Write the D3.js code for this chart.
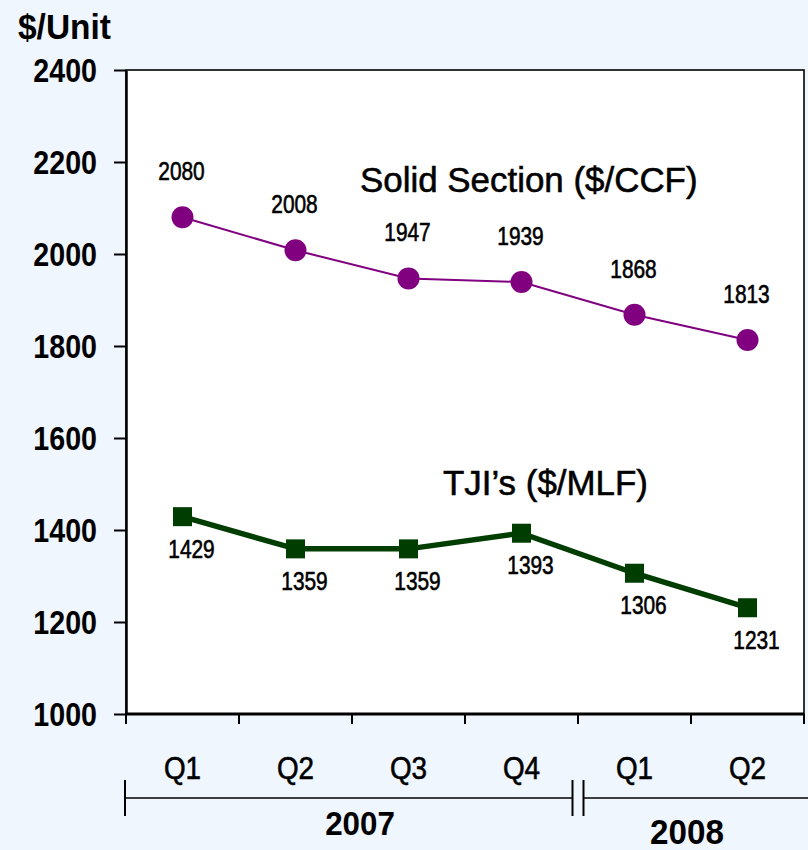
<!DOCTYPE html>
<html><head><meta charset="utf-8">
<script src="https://cdn.jsdelivr.net/npm/d3@7"></script>
<style>
html,body{margin:0;padding:0;background:#EFF6FD;}
svg{display:block;}
text{font-family:"Liberation Sans",Arial,sans-serif;fill:#000;}
text.heavy{stroke:#000;stroke-width:0.6px;}
</style></head>
<body>
<svg id="chart" width="808" height="850"></svg>
<script>
const quarterLabels = ["Q1","Q2","Q3","Q4","Q1","Q2"];
const yearLabels = ["2007","2008"];
const yearSpans = [4,2];
const solidValues = [2080,2008,1947,1939,1868,1813];
const tjiValues = [1429,1359,1359,1393,1306,1231];
const yTicks = [1000,1200,1400,1600,1800,2000,2200,2400];
const solidName = "Solid Section ($/CCF)";
const tjiName = "TJI\u2019s ($/MLF)";
const yTitle = "$/Unit";

const svg = d3.select("#chart");
svg.append("rect").attr("width",808).attr("height",850).attr("fill","#EFF6FD");

const L = 126, R = 804, T = 70, B = 714;
const x = d3.scaleBand().domain(d3.range(quarterLabels.length)).range([L,R]).padding(0);
const y = d3.scaleLinear().domain([1000,2400]).range([B,T]);
const bw = x.bandwidth();
const cx = i => x(i) + bw/2;
const n = quarterLabels.length;

// plot area
svg.append("rect").attr("x",L).attr("y",T).attr("width",R-L).attr("height",B-T)
  .attr("fill","#fff").attr("stroke","#000").attr("stroke-width",1.6);

// left axis
const ya = svg.append("g").attr("transform",`translate(${L},0)`)
  .call(d3.axisLeft(y).tickValues(yTicks).tickFormat(d3.format("d")).tickSize(12).tickSizeOuter(0));
ya.select(".domain").attr("stroke","#000").attr("stroke-width",2.5);
ya.selectAll(".tick line").attr("stroke","#000").attr("stroke-width",2);
ya.selectAll(".tick text")
  .attr("x",0).attr("dy",null).attr("y",0)
  .attr("transform","translate(-29,11.5) scale(0.88,1)")
  .attr("text-anchor","end")
  .style("font-family",'"Liberation Sans",Arial,sans-serif')
  .style("font-size","32.5px").style("font-weight","bold").style("fill","#000");

// bottom axis line + tick marks at band boundaries
svg.append("line").attr("x1",L).attr("x2",R).attr("y1",B).attr("y2",B)
  .attr("stroke","#000").attr("stroke-width",3);
const bounds = d3.range(n).map(i => x(i)).concat([x.range()[1]]);
svg.selectAll(".xtick").data(bounds).join("line").attr("class","xtick")
  .attr("x1",d=>d).attr("x2",d=>d).attr("y1",B).attr("y2",B+10)
  .attr("stroke","#000").attr("stroke-width",2);

// quarter labels
svg.selectAll(".qlab").data(quarterLabels).join("text").attr("class","qlab heavy")
  .attr("transform",(d,i)=>`translate(${cx(i)},779) scale(0.87,1)`)
  .attr("text-anchor","middle")
  .style("font-size","32px").text(d=>d);

// year brackets
const by = 798;
let start = 0;
const breakGap = 5.5;
yearLabels.forEach((lab,k) => {
  const x0 = x(start), end = start + yearSpans[k];
  const inner = end < n;
  const x1 = inner ? x(end) : x.range()[1];
  const a = k === 0 ? x0 - 1 : x0 + breakGap;
  const b = inner ? x1 - breakGap : 808;
  svg.append("line").attr("x1",a).attr("x2",b).attr("y1",by).attr("y2",by)
    .attr("stroke","#000").attr("stroke-width",1.5);
  svg.append("line").attr("x1",a).attr("x2",a).attr("y1",by-18).attr("y2",by+18)
    .attr("stroke","#000").attr("stroke-width",2);
  if (inner) {
    svg.append("line").attr("x1",b).attr("x2",b).attr("y1",by-18).attr("y2",by+18)
      .attr("stroke","#000").attr("stroke-width",2);
  }
  svg.append("text")
    .attr("transform",`translate(${(x0 + x1)/2 + (k===0?8:-4)},${k===0?835:844}) scale(0.95,1)`)
    .attr("text-anchor","middle")
    .style("font-size",k===0?"33px":"35px").style("font-weight","bold")
    .text(lab);
  start = end;
});

// y title
svg.append("text").attr("transform","translate(18,39) scale(0.93,1)")
  .style("font-size","36px").style("font-weight","bold").text(yTitle);

// solid section series
svg.append("path").datum(solidValues)
  .attr("d", d3.line().x((d,i)=>cx(i)).y(d=>y(d)))
  .attr("fill","none").attr("stroke","#800080").attr("stroke-width",2);
svg.selectAll(".sdot").data(solidValues).join("circle").attr("class","sdot")
  .attr("cx",(d,i)=>cx(i)).attr("cy",d=>y(d)).attr("r",11).attr("fill","#800080");
svg.selectAll(".slab").data(solidValues).join("text").attr("class","slab heavy")
  .attr("transform",(d,i)=>`translate(${cx(i)-1},${y(d)-37}) scale(0.82,1)`)
  .attr("text-anchor","middle")
  .style("font-size","25.5px").text(d=>d);

// TJI series
svg.append("path").datum(tjiValues)
  .attr("d", d3.line().x((d,i)=>cx(i)).y(d=>y(d)))
  .attr("fill","none").attr("stroke","#003D00").attr("stroke-width",5.5);
svg.selectAll(".tdot").data(tjiValues).join("rect").attr("class","tdot")
  .attr("x",(d,i)=>cx(i)-9.5).attr("y",d=>y(d)-9.5).attr("width",19).attr("height",19).attr("fill","#003D00");
svg.selectAll(".tlab").data(tjiValues).join("text").attr("class","tlab heavy")
  .attr("transform",(d,i)=>`translate(${cx(i)+9},${y(d)+41}) scale(0.82,1)`)
  .attr("text-anchor","middle")
  .style("font-size","25.5px").text(d=>d);

// series annotations
svg.append("text").attr("class","heavy").attr("transform","translate(360,192) scale(0.97,1)")
  .style("font-size","36px").text(solidName);
svg.append("text").attr("class","heavy").attr("transform","translate(443,495) scale(0.97,1)")
  .style("font-size","36px").text(tjiName);
</script>
</body></html>
